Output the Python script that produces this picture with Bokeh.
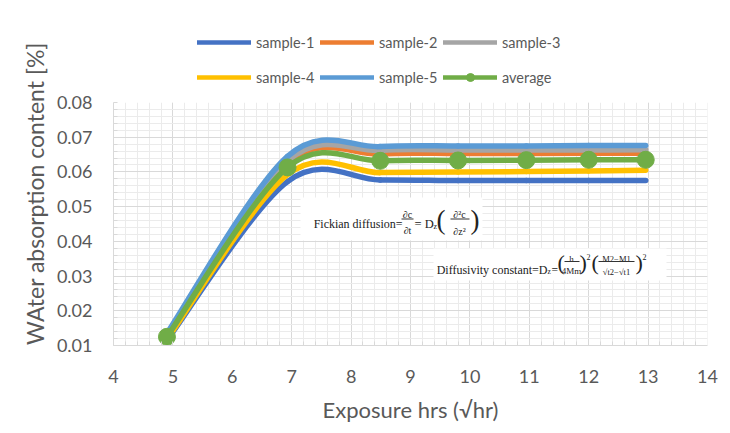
from bokeh.plotting import figure
from bokeh.layouts import column, row
from bokeh.models import (Range1d, FixedTicker, Legend, LegendItem, Label,
                          BoxAnnotation, NumeralTickFormatter)
from bokeh.embed import file_html
from bokeh.resources import INLINE
import numpy as np
import math

# ---------------- data ----------------
x_vals = [4.90, 6.93, 8.49, 9.80, 10.95, 12.00, 12.96]
sample_1 = [0.0115, 0.0572, 0.0577, 0.0575, 0.0575, 0.0575, 0.0575]
sample_2 = [0.0128, 0.0625, 0.0652, 0.0653, 0.0653, 0.0654, 0.0654]
sample_3 = [0.0130, 0.0632, 0.0662, 0.0663, 0.0663, 0.0663, 0.0664]
sample_4 = [0.0118, 0.0592, 0.0598, 0.0600, 0.0601, 0.0603, 0.0605]
sample_5 = [0.0135, 0.0645, 0.0673, 0.0675, 0.0675, 0.0676, 0.0676]
average = [0.0125, 0.0613, 0.0632, 0.0633, 0.0634, 0.0635, 0.0635]

series_names = ["sample-1", "sample-2", "sample-3", "sample-4", "sample-5", "average"]
series_colors = ["#4472C4", "#ED7D31", "#A5A5A5", "#FFC000", "#5B9BD5", "#70AD47"]

x_ticks = [4, 5, 6, 7, 8, 9, 10, 11, 12, 13, 14]
y_ticks = [0.01, 0.02, 0.03, 0.04, 0.05, 0.06, 0.07, 0.08]

x_title = "Exposure hrs (√hr)"
y_title = "WAter absorption content [%]"

# ---------------- layout ----------------
W, H = 728, 430
TW = 52                               # strip holding the y-axis title
LH = 89                               # legend strip height (top of page)
FL, FT, FR, FB = 113, 102, 707, 345   # frame edges in page px
W2 = W - TW
H2 = H - LH
ML, MT, MR, MB = FL - TW, FT - LH, W - FR, H - FB

TXT = "#595959"
FONT = "Lato"
SERIF = "Liberation Serif"

p = figure(width=W2, height=H2, output_backend="svg", toolbar_location=None,
           x_range=Range1d(4, 14), y_range=Range1d(0.01, 0.08),
           min_border_left=ML, min_border_right=MR, min_border_top=MT,
           min_border_bottom=MB)
p.outline_line_color = None
p.background_fill_color = "white"
p.border_fill_color = "white"

x_minor = [v for v in np.arange(4, 14.0001, 0.2)]
y_minor = [v for v in np.arange(0.01, 0.08001, 0.002)]
p.xaxis.ticker = FixedTicker(ticks=x_ticks, minor_ticks=x_minor)
p.yaxis.ticker = FixedTicker(ticks=y_ticks, minor_ticks=y_minor)
p.yaxis.formatter = NumeralTickFormatter(format="0.00")

for ax in (p.xaxis[0], p.yaxis[0]):
    ax.axis_line_color = "#D9D9D9"
    ax.major_tick_in = 0
    ax.major_tick_out = 0
    ax.minor_tick_in = 4
    ax.minor_tick_out = 0
    ax.minor_tick_line_color = "#D9D9D9"
    ax.major_label_text_font = FONT
    ax.major_label_text_font_size = "18px"
    ax.major_label_text_color = TXT
    ax.axis_label_text_font = FONT
    ax.axis_label_text_font_style = "normal"
    ax.axis_label_text_color = TXT

p.xaxis.axis_label_text_font_size = "22px"
p.xaxis.major_label_standoff = 24
p.xaxis.axis_label_standoff = 10
p.yaxis.major_label_standoff = 21
p.xaxis.axis_label = x_title

for g in (p.xgrid[0], p.ygrid[0]):
    g.grid_line_color = "#D9D9D9"
    g.grid_line_width = 1
    g.minor_grid_line_color = "#EBEBEB"
    g.minor_grid_line_width = 1


def smooth_segments(xs, ys, t=1.0 / 6.0):
    """Bezier control points for Excel-like smoothed lines (Catmull-Rom)."""
    n = len(xs)
    out = dict(x0=[], y0=[], x1=[], y1=[], cx0=[], cy0=[], cx1=[], cy1=[])
    for i in range(n - 1):
        im1 = max(i - 1, 0)
        ip2 = min(i + 2, n - 1)
        out["x0"].append(xs[i]); out["y0"].append(ys[i])
        out["x1"].append(xs[i + 1]); out["y1"].append(ys[i + 1])
        out["cx0"].append(xs[i] + (xs[i + 1] - xs[im1]) * t)
        out["cy0"].append(ys[i] + (ys[i + 1] - ys[im1]) * t)
        out["cx1"].append(xs[i + 1] - (xs[ip2] - xs[i]) * t)
        out["cy1"].append(ys[i + 1] - (ys[ip2] - ys[i]) * t)
    return out


all_series = [sample_1, sample_2, sample_3, sample_4, sample_5, average]
for ys, col in zip(all_series, series_colors):
    seg = smooth_segments(x_vals, ys)
    p.bezier(x0="x0", y0="y0", x1="x1", y1="y1", cx0="cx0", cy0="cy0",
             cx1="cx1", cy1="cy1", source=seg, line_color=col,
             line_width=5.5, line_cap="round")

p.scatter(x_vals, average, size=17, marker="circle",
          fill_color=series_colors[5], line_color=series_colors[5])

# ---------------- legend strip ----------------
# Same series drawn in a strip whose ranges keep the data out of view;
# only its legend is visible.
leg = figure(width=W2, height=LH, output_backend="svg", toolbar_location=None,
             x_axis_type=None, y_axis_type=None, x_range=Range1d(0, 1),
             y_range=Range1d(0, 1), min_border_left=ML, min_border_right=MR,
             min_border_top=0, min_border_bottom=0)
leg.outline_line_color = None
leg.grid.visible = False
leg.background_fill_color = "white"
leg.border_fill_color = "white"

leg_items = []
for name, col, ys in zip(series_names, series_colors, all_series):
    rs = [leg.line(x=x_vals, y=ys, line_color=col, line_width=4.5,
                   line_cap="round")]
    if name == "average":
        rs.append(leg.scatter(x=x_vals, y=ys, marker="circle", fill_color=col,
                              line_color=col))
    leg_items.append(LegendItem(label=name, renderers=rs))

LEG_X = 197 - FL          # strip frame is aligned with the main frame
row_centers = [42, 77]
for k, yc in enumerate(row_centers):
    lg = Legend(items=leg_items[3 * k:3 * k + 3], orientation="horizontal",
                location=(LEG_X, LH - (yc + 10)), margin=0,
                padding=0, spacing=4, glyph_width=54, glyph_height=20,
                label_height=20, label_width=60, label_standoff=5,
                label_text_font=FONT, label_text_font_size="14.5px",
                label_text_color=TXT, border_line_color=None,
                background_fill_alpha=0)
    leg.add_layout(lg, "center")

# ---------------- y-axis title strip ----------------
yt = figure(width=TW, height=H, output_backend="svg", toolbar_location=None,
            x_axis_type=None, y_axis_type=None, x_range=Range1d(0, 1),
            y_range=Range1d(0, 1), min_border=0)
yt.outline_line_color = None
yt.grid.visible = False
yt.background_fill_color = "white"
yt.border_fill_color = "white"
yt.add_layout(Label(x=34, y=H - 193, x_units="screen", y_units="screen",
                    text=y_title, angle=math.pi / 2, text_font=FONT,
                    text_font_size="23px", text_color=TXT,
                    text_align="center", text_baseline="middle"))


# ---------------- equation boxes ----------------
def sx(px):
    return px - FL


def sy(py):
    return FB - py


def box(l, t, r, b, color="white"):
    p.add_layout(BoxAnnotation(left=sx(l), right=sx(r), top=sy(t), bottom=sy(b),
                               left_units="screen", right_units="screen",
                               top_units="screen", bottom_units="screen",
                               fill_color=color, fill_alpha=1, line_color=None,
                               level="annotation"))


def txt(s, px, py, size, align="left", baseline="alphabetic"):
    p.add_layout(Label(x=sx(px), y=sy(py), x_units="screen", y_units="screen",
                       text=s, text_font=SERIF, text_font_size=f"{size}px",
                       text_color="#222222", text_align=align,
                       text_baseline=baseline))


def bar(l, r, py):
    box(l, py - 0.5, r, py + 0.5, color="#333333")


# Fickian diffusion box
box(300, 197, 482, 240)
txt("Fickian diffusion=", 402, 223, 12, "right")
txt("∂c", 407, 214, 10, "center")
bar(401, 413, 218.5)
txt("∂t", 407, 230, 10, "center")
txt("= D", 414, 223, 12.5)
txt("z", 433, 226, 8)
txt("(", 436, 219, 27, baseline="middle")
txt("∂²c", 459, 214, 10, "center")
bar(450, 469, 218.5)
txt("∂z²", 459, 231, 10, "center")
txt(")", 470, 219, 27, baseline="middle")

# Diffusivity constant box
box(433, 248, 666, 280)
txt("Diffusivity constant=D", 547, 269, 12, "right")
txt("z", 547, 271, 7.5)
txt("=", 551, 269, 11.5)
txt("(", 557, 262, 22, baseline="middle")
txt("h", 571, 258, 9, "center")
bar(564, 579, 261)
txt("4Mm", 571, 270, 9, "center")
txt(")", 579, 262, 22, baseline="middle")
txt("2", 586, 256, 8)
txt("(", 591, 262, 22, baseline="middle")
txt("M2−M1", 616, 258, 8.5, "center")
bar(598, 634, 261)
txt("√t2−√t1", 616, 271, 8.5, "center")
txt(")", 635, 262, 22, baseline="middle")
txt("2", 642, 256, 8)

layout = row(yt, column(leg, p, spacing=0), spacing=0)
open("out.html", "w").write(file_html(layout, INLINE))
